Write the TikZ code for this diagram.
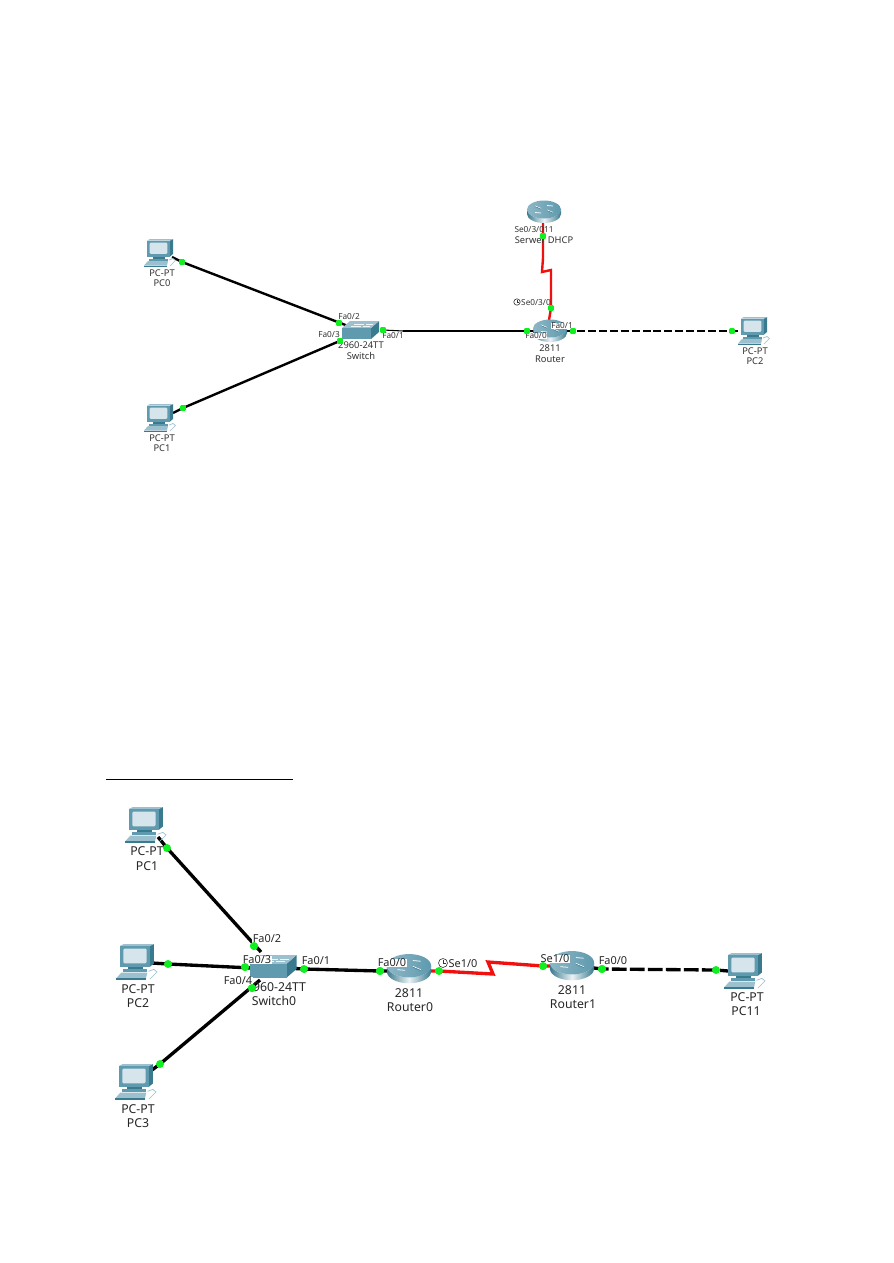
\documentclass[tikz,border=0pt]{standalone}
\usepackage{fontspec}
\setmainfont{Noto Sans}
\definecolor{tealmid}{HTML}{5F9AAE}
\definecolor{tealdark}{HTML}{3A7A8E}
\definecolor{teallight}{HTML}{9CC0CE}
\definecolor{screenc}{HTML}{D6E5EC}
\definecolor{lampgreen}{HTML}{10F020}
\definecolor{wanred}{HTML}{F01010}
\pgfdeclarelayer{cables}
\pgfsetlayers{cables,main}
\tikzset{
  x=0.75pt,y=-0.75pt,
  small lamp/.style={rectangle,fill=lampgreen,rounded corners=0.8pt,minimum size=4.2pt,inner sep=0pt},
  big lamp/.style={circle,fill=lampgreen,minimum size=6pt,inner sep=0pt},
  lan/.style={line width=1.8pt,black},
  lan thin/.style={line width=0.8pt,black},
  wan/.style={line width=1.8pt,wanred,line join=miter},
  lan dash/.style={line width=1.8pt,black,dash pattern=on 6pt off 2.2pt},
  big lan/.style={line width=2.5pt,black},
  big wan/.style={line width=2.5pt,wanred,line join=miter},
  big dash/.style={line width=2.5pt,black,dash pattern=on 11pt off 2.5pt},
  small text/.style={font=\fontsize{7}{8}\selectfont,text=black!80,inner sep=0.4pt},
  big text/.style={font=\fontsize{9.2}{10}\selectfont,text=black!85,inner sep=0.5pt},
  small port/.style={font=\fontsize{6.2}{7}\selectfont,text=black!80,fill=white,inner sep=0.2pt},
  big port/.style={font=\fontsize{8.2}{9}\selectfont,text=black!85,fill=white,inner sep=0.3pt},
  pcicon/.pic={
    % mouse and its lead
    \draw[teallight,line width=0.5pt] (22,21) -- (26,19.5) -- (28.5,21.5) -- (26,24) -- (23,27);
    % monitor
    \fill[tealdark] (23,1.5) -- (26,0) -- (26,15) -- (23,17.5) -- cycle;
    \fill[teallight] (0,1.5) -- (3,0) -- (26,0) -- (23,1.5) -- cycle;
    \fill[tealmid] (0,1.5) rectangle (23,17.5);
    \fill[screenc,rounded corners=0.8pt] (2.6,3.6) rectangle (20.4,14.8);
    % stand and keyboard
    \fill[tealdark] (6,17.5) rectangle (18,19.5);
    \fill[tealmid] (2,19.5) rectangle (21,21.5);
    \fill[teallight] (1,22) -- (21,22) -- (20,26.5) -- (-3,26.5) -- cycle;
    \fill[tealdark] (-3,26.5) rectangle (20,27.5);
  },
  routericon/.pic={
    \shade[left color=tealdark,right color=tealdark,middle color=white!80!teallight]
      (-17,-2.5) arc[start angle=180,end angle=0,x radius=17,y radius=9] -- (17,2)
      arc[start angle=0,end angle=180,x radius=17,y radius=9] -- cycle;
    \shade[left color=teallight!75!tealmid,right color=tealmid] (0,-2.5) ellipse[x radius=17,y radius=9];
    \draw[white,line width=0.55pt] (-9,-6) -- (-3,-3.5) (9,0.5) -- (3,-2) (3,-6.5) -- (9,-6) (-3,1) -- (-9,0.5);
    \draw[tealdark,line width=0.35pt] (-9,-5.4) -- (-3,-2.9) (9,1.1) -- (3,-1.4);
  },
  switchicon/.pic={
    \fill[tealdark] (29,7) -- (37,0) -- (37,11) -- (29,18) -- cycle;
    \fill[teallight] (0,7) -- (8,0) -- (37,0) -- (29,7) -- cycle;
    \fill[tealmid] (0,7) rectangle (29,18);
    \draw[white!85!teallight,line width=0.3pt] (12,3.2) -- (22,3.2) (24,3.2) -- (31,3.2) (9,5) -- (19,5) (21,5) -- (28,5);
  },
  clockmark/.pic={
    \draw[black!80,line width=0.45pt] (0,0) circle[radius=3.2];
    \draw[black!80,line width=0.45pt] (0,-2.1) -- (0,0) -- (1.9,0);
  }
}
\begin{document}
\begin{tikzpicture}
\useasboundingbox (0,0) rectangle (893,1263);
\begin{pgfonlayer}{cables}
\fill[white] (0,0) rectangle (893,1263);
\end{pgfonlayer}

% Upper network: devices
\pic at (147,239) {pcicon};
\pic at (147,404) {pcicon};
\pic at (741,317) {pcicon};
\pic at (342,321) {switchicon};
\pic at (544,212) {routericon};
\pic at (550,331) {routericon};

% Upper network: named cable ends
\coordinate (uPc0End) at (172,257);
\coordinate (uPc1End) at (173,413);
\coordinate (uPc2End) at (741,331);
\coordinate (uSwA) at (348,326);
\coordinate (uSwB) at (342,340);
\coordinate (uSwC) at (379,330);
\coordinate (uBendA) at (403,331);
\coordinate (uRtrIn) at (534,331);
\coordinate (uDhcpEnd) at (543,222);
\coordinate (uRtrTop) at (549,320);
\coordinate (uRtrOut) at (566,331);
\coordinate (uZa) at (543,258);
\coordinate (uZb) at (542,272);
\coordinate (uZc) at (551,270);

% Upper network: link lights
\node[small lamp] (uL0) at (182,262) {};
\node[small lamp] (uL1) at (183,408) {};
\node[small lamp] (uL2) at (339,323) {};
\node[small lamp] (uL3) at (340,341) {};
\node[small lamp] (uL4) at (383,330) {};
\node[small lamp] (uL5) at (527,331) {};
\node[small lamp] (uL6) at (573,331) {};
\node[small lamp] (uL7) at (732,331) {};
\node[small lamp] (uL8) at (543,236) {};
\node[small lamp] (uL9) at (551,308) {};

% Upper network: labels
\node[small text] (t1) at (162,273) {PC-PT};
\node[small text] (t2) at (162,283) {PC0};
\node[small text] (t3) at (162,438) {PC-PT};
\node[small text] (t4) at (162,448) {PC1};
\node[small text] (t5) at (755,351) {PC-PT};
\node[small text] (t6) at (755,361) {PC2};
\node[small text] (t7) at (361,345) {2960-24TT};
\node[small text] (t8) at (361,356) {Switch};
\node[small text] (t9) at (550,348) {2811};
\node[small text] (t10) at (550,359) {Router};
\node[font=\fontsize{6.2}{7}\selectfont,text=black!80,inner sep=0.2pt] (t11) at (534,230) {Se0/3/011};
\node[small text] (t12) at (544,240) {Serwer DHCP};
\node[small port] (t13) at (349,317) {Fa0/2};
\node[small port] (t14) at (329,335) {Fa0/3};
\node[small port] (t15) at (393,336) {Fa0/1};
\node[small port] (t16) at (562,326) {Fa0/1};
\node[small port] (t17) at (536,336) {Fa0/0};
\node[font=\fontsize{6.2}{7}\selectfont,text=black!80,inner sep=0.2pt] (t18) at (536,303) {Se0/3/0};
\pic at (517,302) {clockmark};
% Lights stay above the labels that overlap them
\node[small lamp] at (uL2) {};
\node[small lamp] at (uL3) {};
\node[small lamp] at (uL4) {};
\node[small lamp] at (uL5) {};
\node[small lamp] at (uL6) {};
\node[small lamp] at (uL8) {};

% Upper network: cables
\begin{pgfonlayer}{cables}
\draw[lan] (uPc0End) -- (uL0.center) -- (uSwA);
\draw[lan] (uPc1End) -- (uL1.center) -- (uSwB);
\draw[lan thin] (uL4.center) -- (uBendA);
\draw[lan] (uBendA) -- (uRtrIn);
\draw[lan dash] (uRtrOut) -- (uL6.center) -- (uL7.center) -- (uPc2End);
\draw[wan] (uDhcpEnd) -- (uZa) -- (uZb) -- (uZc) -- (uL9.center) -- (uRtrTop);
\end{pgfonlayer}

% Lower network: devices
\pic[scale=1.3] at (129,807) {pcicon};
\pic[scale=1.3] at (120,944) {pcicon};
\pic[scale=1.3] at (119,1064) {pcicon};
\pic[scale=1.3] at (728,953) {pcicon};
\pic[scale=1.26] at (250,955) {switchicon};
\pic[scale=1.3] at (409,969) {routericon};
\pic[scale=1.3] at (572,966) {routericon};

% Lower network: named cable ends
\coordinate (lPc1End) at (158,837);
\coordinate (lPc2End) at (152,963);
\coordinate (lPc3End) at (152,1070);
\coordinate (lPc11End) at (728,971);
\coordinate (lSwA) at (261,952);
\coordinate (lSwB) at (252,968);
\coordinate (lSwC) at (260,980);
\coordinate (lSwD) at (286,968);
\coordinate (lR0Out) at (431,971);
\coordinate (lR1In) at (552,966);
\coordinate (lR1Out) at (594,968);
\coordinate (lZa) at (493,974);
\coordinate (lZb) at (488,962);
\coordinate (lR0In) at (388,971);

% Lower network: link lights
\node[big lamp] (lL0) at (167,848) {};
\node[big lamp] (lL1) at (168,964) {};
\node[big lamp] (lL2) at (160,1064) {};
\node[big lamp] (lL3) at (254,946) {};
\node[big lamp] (lL4) at (245,967) {};
\node[big lamp] (lL5) at (252,988) {};
\node[big lamp] (lL6) at (304,969) {};
\node[big lamp] (lL7) at (380,971) {};
\node[big lamp] (lL8) at (439,971) {};
\node[big lamp] (lL9) at (543,966) {};
\node[big lamp] (lL10) at (602,969) {};
\node[big lamp] (lL11) at (716,970) {};

% Lower network: labels
\node[big text] (b1) at (147,851) {PC-PT};
\node[big text] (b2) at (147,866) {PC1};
\node[big text] (b3) at (138,989) {PC-PT};
\node[big text] (b4) at (138,1003) {PC2};
\node[big text] (b5) at (138,1109) {PC-PT};
\node[big text] (b6) at (138,1123) {PC3};
\node[big text] (b7) at (747,997) {PC-PT};
\node[big text] (b8) at (746,1011) {PC11};
\node[big text] (b9) at (276,987) {2960-24TT};
\node[big text] (b10) at (274,1001) {Switch0};
\node[big text] (b11) at (409,993) {2811};
\node[big text] (b12) at (410,1007) {Router0};
\node[big text] (b13) at (572,990) {2811};
\node[big text] (b14) at (573,1004) {Router1};
\node[big port] (b15) at (267,939) {Fa0/2};
\node[big port] (b16) at (257,960) {Fa0/3};
\node[big port] (b17) at (238,981) {Fa0/4};
\node[big port] (b18) at (316,961) {Fa0/1};
\node[big port] (b19) at (392,963) {Fa0/0};
\node[big port] (b20) at (555,959) {Se1/0};
\node[big port] (b21) at (613,961) {Fa0/0};
\node[font=\fontsize{8.2}{9}\selectfont,text=black!85,inner sep=0.3pt] (b22) at (463,964) {Se1/0};
\pic[scale=1.4] at (443,963) {clockmark};
% Lights stay above the labels that overlap them
\node[big lamp] at (lL3) {};
\node[big lamp] at (lL4) {};
\node[big lamp] at (lL5) {};
\node[big lamp] at (lL7) {};
\node[big lamp] at (lL9) {};
\node[big lamp] at (lL10) {};

% Rule above the lower network
\coordinate (ruleL) at (106,779);
\coordinate (ruleR) at (293,779);
\draw[black,line width=0.6pt] (ruleL) -- (ruleR);

% Lower network: cables
\begin{pgfonlayer}{cables}
\draw[big lan] (lPc1End) -- (lL0.center) -- (lSwA);
\draw[big lan] (lPc2End) -- (lL1.center) -- (lSwB);
\draw[big lan] (lPc3End) -- (lL2.center) -- (lSwC);
\draw[big lan] (lSwD) -- (lL6.center) -- (lL7.center) -- (lR0In);
\draw[big wan] (lR0Out) -- (lL8.center) -- (lZa) -- (lZb) -- (lL9.center) -- (lR1In);
\draw[big dash] (lR1Out) -- (lL10.center) -- (lL11.center) -- (lPc11End);
\end{pgfonlayer}
\end{tikzpicture}
\end{document}
